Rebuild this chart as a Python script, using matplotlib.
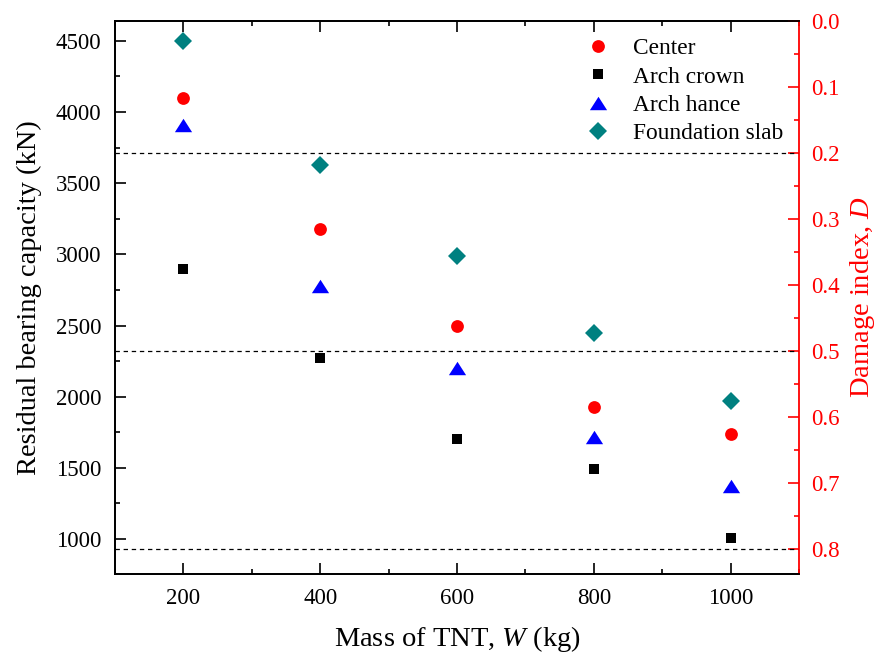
import matplotlib
matplotlib.use("Agg")
import matplotlib.pyplot as plt
from matplotlib.ticker import MultipleLocator

plt.rcParams['font.family'] = ['Liberation Serif', 'DejaVu Serif']
plt.rcParams['mathtext.fontset'] = 'custom'
plt.rcParams['mathtext.it'] = 'Liberation Serif:italic'
plt.rcParams['mathtext.rm'] = 'Liberation Serif'

# ---- data ----
tnt_mass = [200, 400, 600, 800, 1000]
center = [4100, 3180, 2500, 1925, 1735]
arch_crown = [2900, 2270, 1705, 1490, 1010]
arch_hance = [3910, 2780, 2200, 1720, 1370]
foundation_slab = [4500, 3630, 2990, 2450, 1970]
damage_levels = [0.2, 0.5, 0.8]

fig = plt.figure(figsize=(8.8, 6.55), dpi=100)
ax = fig.add_axes([115/880, 1-574/655, (799-115)/880, (574-21)/655])
ax2 = ax.twinx()

tri = [(-1, -0.78), (1, -0.78), (0, 0.78)]
ax.plot(tnt_mass, center, linestyle='none', marker='o', ms=9.2, color='#FF0000', mec='#FF0000', mew=0, label='Center')
ax.plot(tnt_mass, arch_crown, linestyle='none', marker='s', ms=7.6, color='black', mew=0, label='Arch crown')
ax.plot(tnt_mass, arch_hance, linestyle='none', marker=tri, ms=12.4, color='#0000FF', mew=0, label='Arch hance')
ax.plot(tnt_mass, foundation_slab, linestyle='none', marker='D', ms=9.0, color='#008080', mew=0, label='Foundation slab')

ax.set_xlim(100, 1100)
ax.set_ylim(754, 4640)
ax.xaxis.set_major_locator(MultipleLocator(200))
ax.xaxis.set_minor_locator(MultipleLocator(100))
ax.yaxis.set_major_locator(MultipleLocator(500))
ax.yaxis.set_minor_locator(MultipleLocator(250))

for d in damage_levels:
    ax2.axhline(d, color='black', lw=0.9, linestyle=(0, (3.5, 3)))
ax2.set_ylim(0.838, 0.0)
ax2.yaxis.set_major_locator(MultipleLocator(0.1))
ax2.yaxis.set_minor_locator(MultipleLocator(0.05))
ax2.yaxis.set_major_formatter(matplotlib.ticker.FormatStrFormatter('%.1f'))

for sp in ['left', 'bottom', 'top']:
    ax.spines[sp].set_linewidth(1.3)
    ax2.spines[sp].set_linewidth(1.3)
ax2.spines['right'].set_color('#FF0000')
ax2.spines['right'].set_linewidth(1.3)
ax.spines['right'].set_visible(False)

ax.tick_params(axis='both', which='major', direction='in', length=7.7, width=1.2, labelsize=16.5, pad=10,
               top=True, right=False)
ax.tick_params(axis='both', which='minor', direction='in', length=3.5, width=1.2, top=True, right=False)
ax2.tick_params(axis='y', which='major', direction='in', length=7.7, width=1.2, labelsize=16.5, pad=9,
                colors='#FF0000')
ax2.tick_params(axis='y', which='minor', direction='in', length=3.5, width=1.2, colors='#FF0000')

ax.set_xlabel('Mass of TNT, $\\mathit{W}$ (kg)', fontsize=20.5, labelpad=11)
ax.set_ylabel('Residual bearing capacity (kN)', fontsize=20.5, labelpad=10)
ax2.set_ylabel('Damage index, $\\mathit{D}$', fontsize=20.5, color='#FF0000', labelpad=6)

ax.legend(loc='upper left', bbox_to_anchor=(565/880, 1-17/655), bbox_transform=fig.transFigure,
          frameon=False, fontsize=16.8, handlelength=1.0, handletextpad=1.0, labelspacing=0.3,
          borderpad=0.4, numpoints=1)

fig.savefig('out.png', dpi=100)
